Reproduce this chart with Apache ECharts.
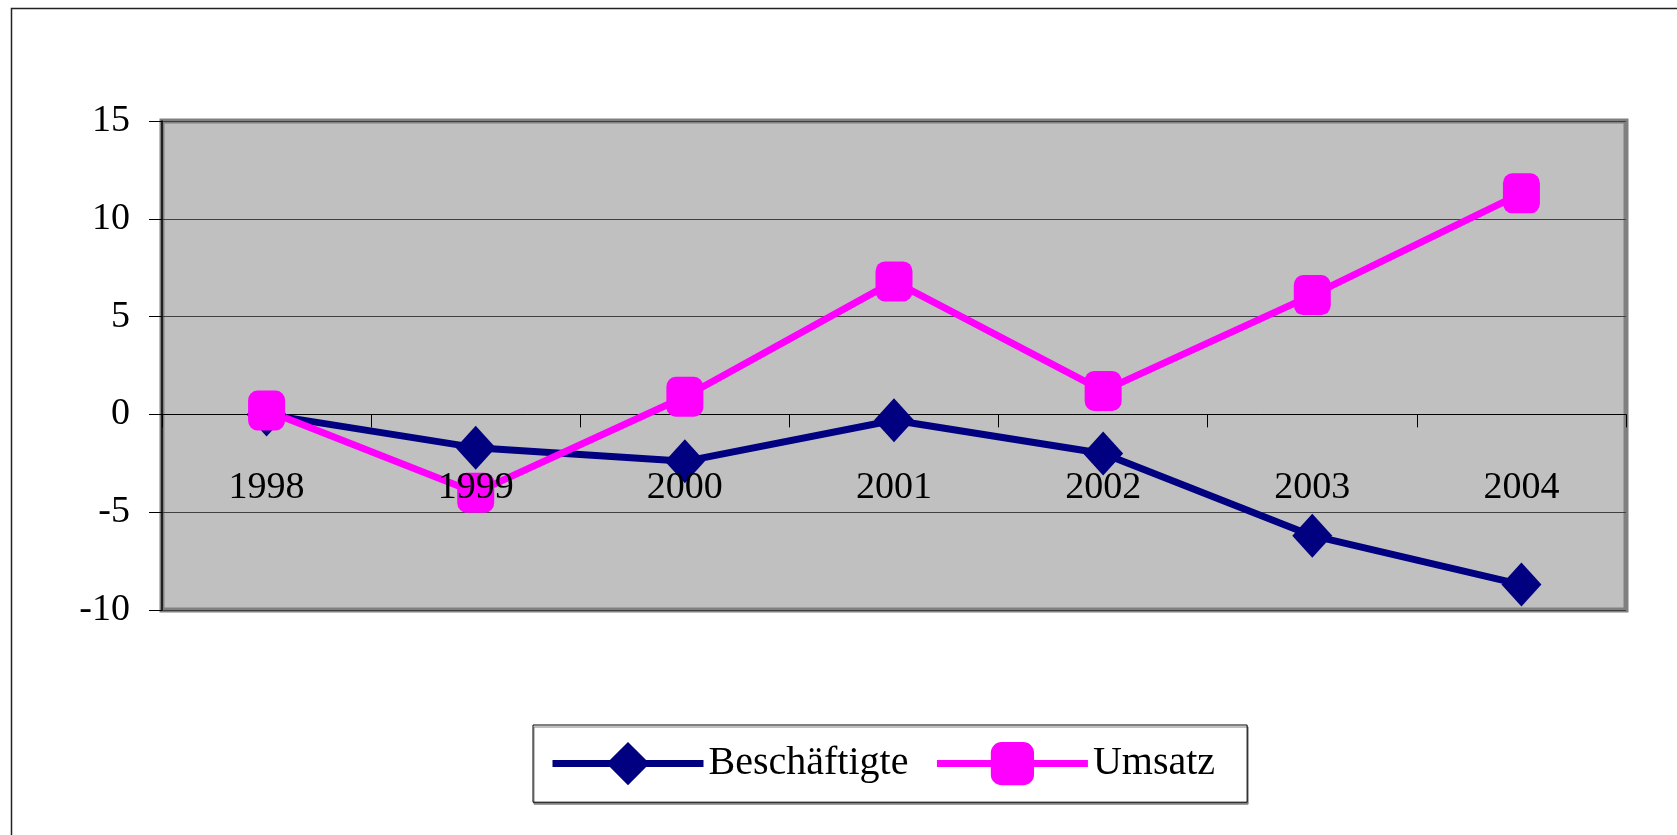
<!DOCTYPE html>
<html>
<head>
<meta charset="utf-8">
<title>Beschäftigte und Umsatz</title>
<script src="https://cdn.jsdelivr.net/npm/echarts@6/dist/echarts.min.js"></script>
<style>
  html, body { margin: 0; padding: 0; background: #fff; }
  #chart { width: 1677px; height: 835px; }
</style>
</head>
<body>
<div id="chart"></div>
<script>
// Jahre und Veränderungsraten
var years = ['1998', '1999', '2000', '2001', '2002', '2003', '2004'];
var beschaeftigte = [0, -1.7, -2.4, -0.3, -2.0, -6.2, -8.7];
var umsatz = [0.2, -4.0, 0.9, 6.8, 1.2, 6.1, 11.3];
var yTicks = { min: -10, max: 15, step: 5 };

var font = '"Liberation Serif", "Times New Roman", serif';
var myChart = echarts.init(document.getElementById('chart'));

// Abstand Gitterunterkante -> Nulllinie, damit die Jahreszahlen unter der Nulllinie stehen
var zeroOffset = 197;

var option = {
  backgroundColor: '#ffffff',
  animation: false,
  graphic: [
    {
      type: 'rect',
      left: 9, top: 6,
      shape: { width: 1700, height: 900 },
      style: { fill: 'none', stroke: '#222', lineWidth: 1.5 },
      z: 100
    }
  ],
  grid: {
    left: 162, right: 51, top: 121, bottom: 225,
    show: true,
    backgroundColor: '#c0c0c0',
    borderColor: '#808080',
    borderWidth: 5
  },
  legend: {
    left: 533, top: 725,
    padding: [17, 32, 17, 16],
    itemWidth: 151,
    itemHeight: 54,
    itemGap: 25,
    backgroundColor: '#fff',
    borderColor: '#000',
    borderWidth: 1,
    shadowColor: '#808080',
    shadowOffsetX: 1,
    shadowOffsetY: 2,
    lineStyle: { width: 7 },
    textStyle: { fontFamily: font, fontSize: 40, color: '#000' },
    data: ['Beschäftigte', 'Umsatz']
  },
  xAxis: [
    {
      type: 'category',
      data: years,
      boundaryGap: true,
      axisLine: { onZero: true, lineStyle: { color: '#000', width: 1 } },
      axisTick: { show: true, length: 13, inside: false, lineStyle: { color: '#000' } },
      axisLabel: { show: false },
      splitLine: { show: false }
    },
    {
      // nur Beschriftung, liegt über den Linien wie im Original
      type: 'category',
      data: years,
      boundaryGap: true,
      position: 'bottom',
      offset: -zeroOffset,
      z: 10,
      axisLine: { show: false, onZero: false },
      axisTick: { show: false },
      axisLabel: { interval: 0, margin: 56, fontFamily: font, fontSize: 38, color: '#000' },
      splitLine: { show: false }
    }
  ],
  yAxis: {
    type: 'value',
    min: yTicks.min,
    max: yTicks.max,
    interval: yTicks.step,
    axisLine: { show: true, lineStyle: { color: '#000', width: 1.5 } },
    axisTick: { show: true, length: 13, lineStyle: { color: '#000' } },
    axisLabel: { margin: 32, fontFamily: font, fontSize: 38, color: '#000' },
    splitLine: { show: true, lineStyle: { color: '#404040', width: 1 } }
  },
  series: [
    {
      name: 'Beschäftigte',
      type: 'line',
      data: beschaeftigte,
      symbol: 'diamond',
      symbolSize: [40, 44],
      lineStyle: { color: '#000080', width: 7 },
      itemStyle: { color: '#000080' }
    },
    {
      name: 'Umsatz',
      type: 'line',
      data: umsatz,
      symbol: 'roundRect',
      symbolSize: [37, 40],
      lineStyle: { color: '#ff00ff', width: 7 },
      itemStyle: { color: '#ff00ff' }
    }
  ]
};

myChart.setOption(option);
</script>
</body>
</html>
